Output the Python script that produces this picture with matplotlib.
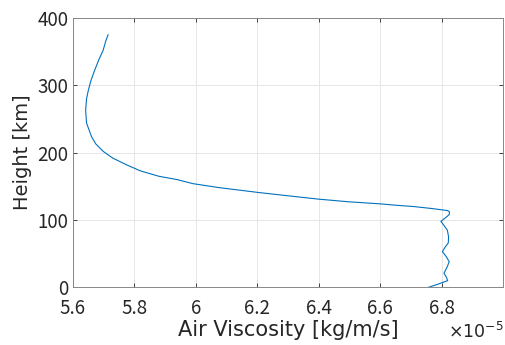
import matplotlib
matplotlib.use("Agg")
import matplotlib.pyplot as plt
from matplotlib.ticker import FuncFormatter

plt.rcParams['font.family'] = ['Noto Sans CJK JP', 'DejaVu Sans']

# height [km] and air viscosity [x1e-5 kg/m/s]
height = [0, 5, 10, 15, 21, 30, 38, 46, 53, 60, 66, 75, 85, 92, 98, 103, 108,
          112, 114, 117, 120, 122, 124, 127, 131, 136, 141, 148, 154, 160, 165,
          173, 182, 192, 202, 213, 224, 244, 263, 280, 293, 308, 323, 338, 352,
          365, 375]
viscosity = [6.757, 6.790, 6.820, 6.816, 6.808, 6.818, 6.825, 6.815, 6.803,
             6.812, 6.822, 6.823, 6.819, 6.808, 6.798, 6.812, 6.825, 6.826,
             6.820, 6.770, 6.710, 6.650, 6.601, 6.500, 6.400, 6.300, 6.202,
             6.078, 5.991, 5.940, 5.880, 5.820, 5.775, 5.730, 5.699, 5.675,
             5.661, 5.645, 5.642, 5.645, 5.651, 5.660, 5.672, 5.685, 5.699,
             5.707, 5.715]

xticks = [5.6, 5.8, 6.0, 6.2, 6.4, 6.6, 6.8]
yticks = [0, 100, 200, 300, 400]

fig = plt.figure(figsize=(5.05, 3.45), dpi=100)
ax = fig.add_axes([0.144, 0.167, 0.852, 0.781])

ax.plot(viscosity, height, color='#0072BD', linewidth=0.8)

ax.set_xlim(5.6, 7.0)
ax.set_ylim(0, 400)
ax.set_xticks(xticks)
ax.set_yticks(yticks)
ax.xaxis.set_major_formatter(FuncFormatter(lambda v, p: '%g' % round(v, 2)))
ax.grid(True, color='#e6e6e6', linewidth=0.7)
ax.set_axisbelow(True)

ax.tick_params(direction='in', top=True, right=True, labelsize=13.5,
               colors='#262626', length=3, width=0.6)
ax.tick_params(axis='x', pad=8)
ax.tick_params(axis='y', pad=3)
for s in ax.spines.values():
    s.set_color('#888888')
    s.set_linewidth(0.7)

ax.set_xlabel('Air Viscosity [kg/m/s]', fontsize=15, color='#262626',
              family='DejaVu Sans')
ax.xaxis.set_label_coords(0.5, -0.12)
ax.xaxis.label.set_va('top')
ax.set_ylabel('Height [km]', fontsize=14, color='#262626', family='DejaVu Sans')
ax.yaxis.set_label_coords(-0.095, 0.5)
fig.text(0.997, 0.008, r'$\times10^{-5}$', ha='right', va='bottom',
         fontsize=12.5, color='#262626')

fig.savefig('out.png', dpi=100)
